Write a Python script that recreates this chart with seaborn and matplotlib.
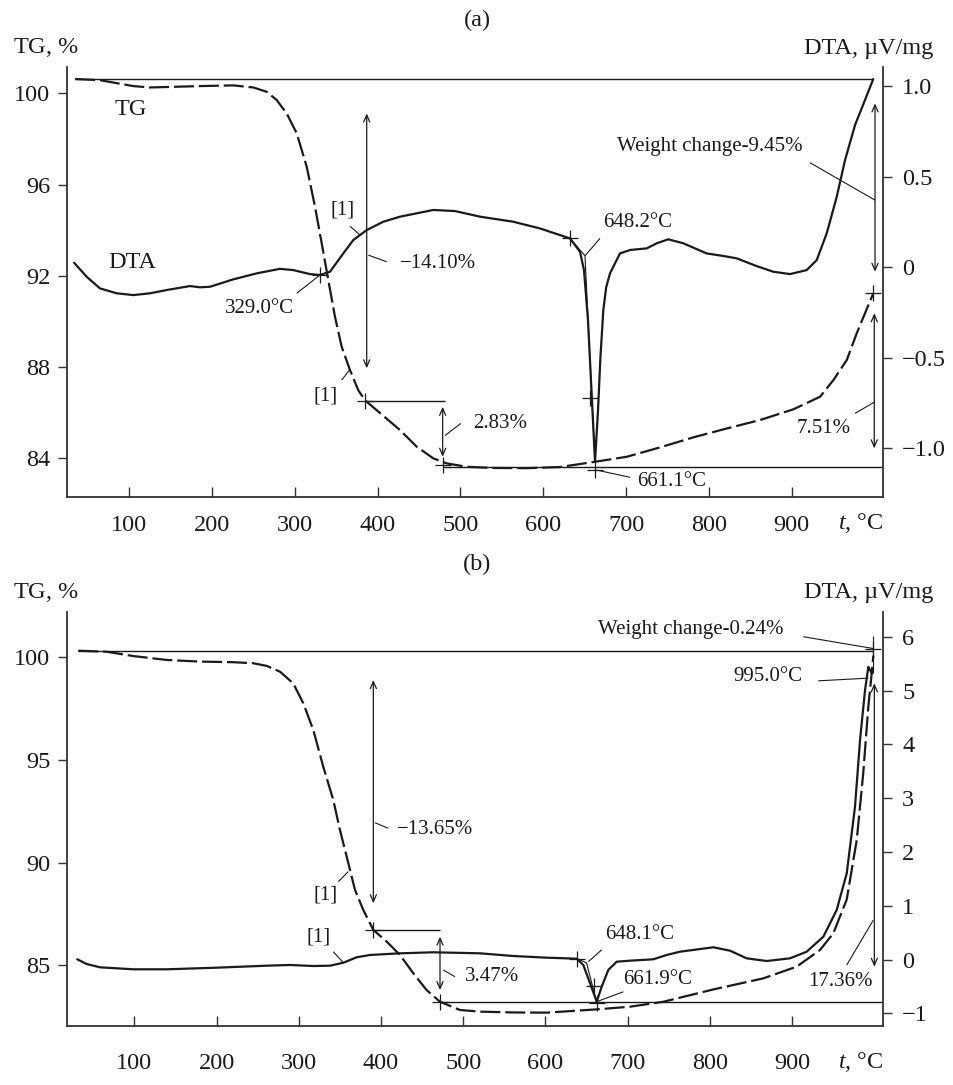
import matplotlib
matplotlib.use("Agg")
import matplotlib.pyplot as plt
import seaborn as sns

# ---- panel (a): TG and DTA curves ----
TG_A_T = [34.8, 64.9, 105.1, 125.3, 185.7, 225.9, 250.0, 266.2, 278.2, 290.3, 302.4, 314.5,
          324.5, 332.6, 340.5, 348.6, 356.7, 366.7, 376.7, 384.8, 399.0, 427.1, 447.3, 467.3,
          483.5, 507.6, 540.0, 580.0, 620.0, 662.5, 700.8, 740.9, 781.1, 821.5, 861.7, 901.9,
          934.1, 950.2, 966.4, 978.4, 990.0, 998.4]
TG_A_W = [100.63, 100.58, 100.32, 100.26, 100.32, 100.35, 100.26, 100.07, 99.71, 99.12, 98.25, 96.78,
          95.03, 93.42, 91.82, 90.21, 88.89, 87.87, 86.99, 86.55, 86.11, 85.24, 84.51, 84.00,
          83.78, 83.63, 83.58, 83.57, 83.62, 83.85, 84.07, 84.48, 84.92, 85.31, 85.68, 86.15,
          86.70, 87.43, 88.31, 89.48, 90.50, 91.23]

DTA_A_T = [33.6, 48.9, 64.9, 85.1, 105.1, 125.3, 145.5, 173.6, 185.7, 197.7, 225.9, 254.1,
           282.2, 298.3, 318.4, 330.5, 342.6, 358.6, 370.7, 386.9, 406.9, 427.1, 467.3, 493.5,
           523.7, 563.9, 596.1, 632.3, 644.4, 649.2, 654.0, 658.8, 662.5, 666.0, 669.0, 672.5,
           676.0, 680.6, 692.6, 704.7, 724.9, 737.0, 751.0, 769.1, 797.3, 817.4, 833.5, 857.7,
           877.7, 897.9, 918.0, 930.1, 942.2, 954.3, 964.3, 976.4, 988.4, 998.4]
DTA_A_V = [0.025, -0.053, -0.117, -0.144, -0.154, -0.144, -0.126, -0.104, -0.111, -0.108, -0.067, -0.034,
           -0.009, -0.016, -0.038, -0.043, -0.025, 0.076, 0.150, 0.205, 0.251, 0.279, 0.316, 0.310,
           0.279, 0.251, 0.214, 0.159, 0.085, -0.016, -0.292, -0.733, -1.074, -0.800, -0.500, -0.237,
           -0.110, -0.034, 0.076, 0.095, 0.104, 0.132, 0.154, 0.132, 0.076, 0.062, 0.049, 0.006,
           -0.025, -0.038, -0.016, 0.039, 0.187, 0.389, 0.591, 0.785, 0.923, 1.039]

# ---- panel (b): TG and DTA curves ----
TG_B_T = [31.8, 66.4, 98.7, 139.3, 179.8, 220.4, 244.7, 261.0, 277.1, 293.3, 305.5, 317.7,
          329.8, 342.0, 350.1, 360.3, 368.4, 378.5, 390.7, 407.0, 423.1, 439.3, 455.5, 471.8,
          496.1, 520.4, 560.0, 601.6, 662.4, 702.9, 743.4, 804.2, 865.0, 905.6, 934.0, 950.3,
          966.5, 978.7, 986.6, 992.8, 996.9, 998.9]
TG_B_W = [100.32, 100.27, 100.06, 99.87, 99.79, 99.76, 99.71, 99.58, 99.30, 98.73, 97.76, 96.46,
          94.67, 93.05, 91.59, 89.97, 88.67, 87.69, 86.72, 86.15, 85.50, 84.61, 83.79, 83.22,
          82.82, 82.74, 82.70, 82.69, 82.85, 82.98, 83.22, 83.82, 84.36, 84.93, 85.74, 86.56,
          88.20, 91.10, 94.35, 97.60, 99.22, 100.08]

DTA_B_T = [30.6, 42.0, 58.2, 98.7, 139.3, 200.2, 261.0, 289.3, 317.7, 338.0, 354.2, 370.4,
           386.6, 423.1, 463.6, 520.4, 561.0, 601.6, 638.1, 646.1, 654.3, 662.4, 668.5, 676.5,
           686.7, 702.9, 731.3, 747.5, 763.7, 804.2, 824.5, 844.8, 869.1, 897.5, 917.8, 938.1,
           954.3, 966.5, 976.6, 982.7, 988.8, 992.8, 997.0]
DTA_B_V = [0.004, -0.084, -0.145, -0.182, -0.182, -0.152, -0.115, -0.102, -0.121, -0.115, -0.060, 0.041,
           0.084, 0.115, 0.134, 0.115, 0.065, 0.034, 0.015, -0.102, -0.442, -0.784, -0.505, -0.195,
           -0.041, -0.022, 0.004, 0.084, 0.145, 0.227, 0.164, 0.022, -0.028, 0.022, 0.145, 0.424,
           0.920, 1.600, 2.840, 4.080, 5.010, 5.440, 5.320]

TEMP_TICKS = [100, 200, 300, 400, 500, 600, 700, 800, 900]
TG_A_TICKS = [84, 88, 92, 96, 100]
TG_B_TICKS = [85, 90, 95, 100]
DTA_A_TICKS = [-1.0, -0.5, 0, 0.5, 1.0]
DTA_A_LABELS = ["\u22121.0", "\u22120.5", "0", "0.5", "1.0"]
DTA_B_TICKS = [-1, 0, 1, 2, 3, 4, 5, 6]
DTA_B_LABELS = ["\u22121", "0", "1", "2", "3", "4", "5", "6"]

INK = "#1a1a1a"
AX_INK = "#333333"
TICK_FS = 17.5
NOTE_FS = 15

sns.set_style("ticks")
plt.rcParams["font.family"] = ["Liberation Serif", "DejaVu Serif"]
plt.rcParams["mathtext.fontset"] = "custom"
plt.rcParams["mathtext.rm"] = "Liberation Serif"
plt.rcParams["mathtext.it"] = "Liberation Serif:italic"

fig = plt.figure(figsize=(9.54, 10.85), dpi=100)
ax_a = fig.add_axes([0.07023, 0.54222, 0.85566, 0.39631])
ax_a2 = ax_a.twinx()
ax_b = fig.add_axes([0.07023, 0.05438, 0.85566, 0.38184])
ax_b2 = ax_b.twinx()

TG_DASH = (0, (9, 2.2))
for ax, ax2, tg_t, tg_w, dta_t, dta_v in [(ax_a, ax_a2, TG_A_T, TG_A_W, DTA_A_T, DTA_A_V),
                                          (ax_b, ax_b2, TG_B_T, TG_B_W, DTA_B_T, DTA_B_V)]:
    sns.lineplot(x=tg_t, y=tg_w, ax=ax, color=INK, lw=1.6, linestyle=TG_DASH, errorbar=None)
    sns.lineplot(x=dta_t, y=dta_v, ax=ax2, color=INK, lw=1.6, errorbar=None)


def style_panel(ax, ax2, xlim, ylim, ylim2, yticks, yticks2, ylabels2, xpad):
    ax.set_xlim(*xlim)
    ax.set_ylim(*ylim)
    ax2.set_ylim(*ylim2)
    ax.set_xticks(TEMP_TICKS, [str(t) for t in TEMP_TICKS])
    ax.set_yticks(yticks, [str(t) for t in yticks])
    ax2.set_yticks(yticks2, ylabels2)
    for name in ["top", "right"]:
        ax.spines[name].set_visible(False)
    for name in ["top", "left", "bottom"]:
        ax2.spines[name].set_visible(False)
    for sp in [ax.spines["left"], ax.spines["bottom"], ax2.spines["right"]]:
        sp.set_color(AX_INK)
        sp.set_linewidth(1.3)
    ax.tick_params(axis="x", direction="in", length=7, width=1, pad=xpad,
                   labelsize=TICK_FS, colors=AX_INK, labelcolor=INK)
    ax.tick_params(axis="y", direction="out", length=6.5, width=1, pad=5.5,
                   labelsize=TICK_FS, colors=AX_INK, labelcolor=INK)
    ax2.tick_params(axis="y", direction="out", length=6.5, width=1, pad=7,
                    labelsize=TICK_FS, colors=AX_INK, labelcolor=INK)
    ax.set_xlabel("")
    ax.set_ylabel("")
    ax2.set_ylabel("")
    ax.grid(False)
    ax2.grid(False)


style_panel(ax_a, ax_a2, (25.1, 1010.5), (82.32, 101.17), (-1.267, 1.107),
            TG_A_TICKS, DTA_A_TICKS, DTA_A_LABELS, 13)
style_panel(ax_b, ax_b2, (18.1, 1011.0), (82.04, 102.22), (-1.236, 6.465),
            TG_B_TICKS, DTA_B_TICKS, DTA_B_LABELS, 19.5)


def seg(ax, xs, ys, lw=0.8):
    ax.plot(xs, ys, color=INK, lw=lw, solid_capstyle="butt")


def span(ax, x, y0, y1):
    ax.annotate("", xy=(x, y1), xytext=(x, y0),
                arrowprops=dict(arrowstyle="<->,head_length=0.5,head_width=0.22",
                                lw=0.9, color=INK, shrinkA=0, shrinkB=0))


def cross(ax, x, y):
    ax.plot([x], [y], marker="+", ms=11, mew=0.9, color=INK)


def note(ax, text, x, y, size=NOTE_FS):
    ax.text(x, y, text, ha="left", va="center", fontsize=size, color=INK)


# ---- panel (a) annotations ----
seg(ax_a, [34.8, 998.4], [100.63, 100.63], lw=1.0)
seg(ax_a, [385.4, 481.4], [86.51, 86.51], lw=1.0)
seg(ax_a, [479.0, 1010.5], [83.61, 83.61], lw=1.0)
cross(ax_a, 385.4, 86.51)
cross(ax_a, 479.0, 83.70)
cross(ax_a, 998.4, 91.23)
span(ax_a, 386.9, 99.12, 87.95)
span(ax_a, 478.6, 86.26, 84.07)
span(ax_a, 1000.5, 99.56, 92.18)
span(ax_a, 999.6, 90.36, 84.44)
note(ax_a, "\u221214.10%", 427.1, 92.55)
seg(ax_a, [388.8, 411.0], [92.91, 92.62])
note(ax_a, "[1]", 342.6, 94.88)
seg(ax_a, [366.7, 378.8], [94.18, 93.79])
note(ax_a, "[1]", 322.4, 86.73)
seg(ax_a, [356.7, 366.7], [87.43, 87.90])
note(ax_a, "2.83%", 514.9, 85.53)
seg(ax_a, [481.4, 500.4], [85.00, 85.53])
note(ax_a, "Weight change-9.45%", 688.7, 97.66)
seg(ax_a, [922.0, 1000.5], [96.96, 95.32])
note(ax_a, "7.51%", 906.0, 85.31)
seg(ax_a, [976.3, 1000.4], [85.97, 86.48])
note(ax_a, "TG", 83.1, 99.30, size=TICK_FS)
note(ax_a, "DTA", 74.6, 92.58, size=TICK_FS)

note(ax_a2, "329.0\u00b0C", 215.8, -0.227)
seg(ax_a2, [302.4, 330.5], [-0.144, -0.043])
cross(ax_a2, 330.5, -0.043)
note(ax_a2, "648.2\u00b0C", 672.5, 0.248)
seg(ax_a2, [650.4, 668.5], [0.063, 0.159])
seg(ax_a2, [632.3, 650.4, 662.5], [0.159, 0.063, -1.08])
cross(ax_a2, 632.3, 0.159)
cross(ax_a2, 656.5, -0.72)
cross(ax_a2, 662.5, -1.12)
note(ax_a2, "661.1\u00b0C", 712.8, -1.184)
seg(ax_a2, [664.5, 704.7], [-1.12, -1.16])

# ---- panel (b) annotations ----
seg(ax_b, [31.8, 998.9], [100.32, 100.32], lw=1.0)
seg(ax_b, [390.7, 471.8], [86.72, 86.72], lw=1.0)
seg(ax_b, [471.8, 1011.0], [83.22, 83.22], lw=1.0)
cross(ax_b, 390.7, 86.72)
cross(ax_b, 471.8, 83.22)
span(ax_b, 390.7, 98.89, 88.02)
span(ax_b, 471.8, 86.39, 83.79)
span(ax_b, 1000.1, 98.73, 84.93)
note(ax_b, "\u221213.65%", 419.1, 91.59)
seg(ax_b, [392.7, 408.9], [91.94, 91.67])
note(ax_b, "[1]", 317.7, 88.42)
seg(ax_b, [348.1, 360.2], [89.07, 89.56])
note(ax_b, "3.47%", 502.2, 84.44)
seg(ax_b, [475.8, 490.0], [84.77, 84.44])
note(ax_b, "17.36%", 919.8, 84.20)
seg(ax_b, [966.5, 998.9], [85.01, 87.20])

note(ax_b2, "[1]", 309.6, 0.424)
seg(ax_b2, [342.0, 354.2], [0.145, -0.060])
note(ax_b2, "648.1\u00b0C", 672.5, 0.456)
seg(ax_b2, [652.2, 668.5], [-0.04, 0.18])
seg(ax_b2, [638.1, 650.0, 662.4], [0.015, -0.06, -0.80])
cross(ax_b2, 638.1, 0.015)
cross(ax_b2, 659.5, -0.50)
cross(ax_b2, 662.4, -0.80)
note(ax_b2, "661.9\u00b0C", 694.8, -0.368)
seg(ax_b2, [662.4, 694.8], [-0.784, -0.60])
note(ax_b2, "995.0\u00b0C", 828.6, 5.26)
seg(ax_b2, [932.0, 992.8], [5.18, 5.23])
note(ax_b2, "Weight change-0.24%", 664.3, 6.125)
seg(ax_b2, [913.7, 998.9], [6.00, 5.78])
seg(ax_b2, [998.9, 998.9], [5.32, 6.02])
cross(ax_b2, 998.9, 5.78)

# ---- titles and axis captions ----
for top, tag in [(0.0, "(a)"), (0.5018, "(b)")]:
    fig.text(0.5, 0.9816 - top, tag, ha="center", va="center", fontsize=TICK_FS, color=INK)
    fig.text(0.0139, 0.956 - top, "TG, $\\mathit{\\%}$", ha="left", va="center",
             fontsize=TICK_FS, color=INK)
    fig.text(0.9783, 0.9555 - top, "DTA, \u00b5V/mg", ha="right", va="center",
             fontsize=TICK_FS, color=INK)
fig.text(0.9259, 0.5177, "$\\mathit{t}$, \u00b0C", ha="right", va="center", fontsize=TICK_FS, color=INK)
fig.text(0.9259, 0.0215, "$\\mathit{t}$, \u00b0C", ha="right", va="center", fontsize=TICK_FS, color=INK)

fig.savefig("out.png", dpi=100)
